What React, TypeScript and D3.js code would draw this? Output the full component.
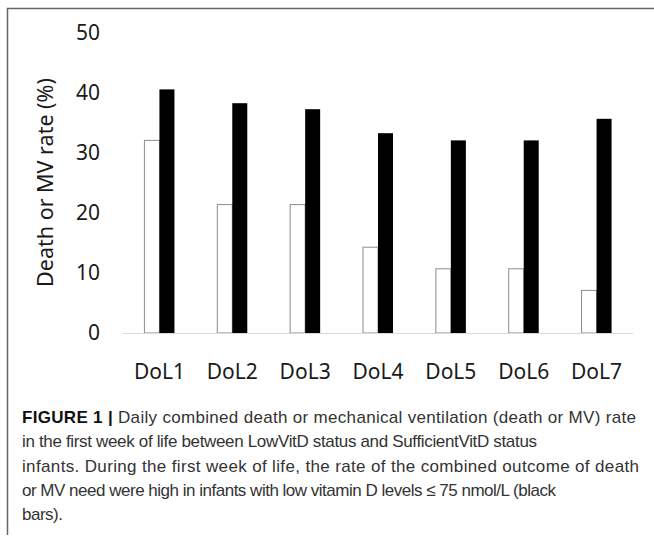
/**
 * App.tsx – Death or MV rate per day of life, LowVitD vs SufficientVitD
 * Grouped bars drawn with D3 through a ref.
 */

import React, { useEffect, useRef } from "react";
import * as d3 from "d3";

const categories = ["DoL1", "DoL2", "DoL3", "DoL4", "DoL5", "DoL6", "DoL7"];
const sufficientVitD = [32.1, 21.4, 21.4, 14.3, 10.7, 10.7, 7.1];
const lowVitD = [40.6, 38.3, 37.3, 33.3, 32.1, 32.1, 35.7];
const yTicks = [0, 10, 20, 30, 40, 50];
const seriesKeys = ["sufficient", "low"];

const captionLines = [
    { bold: "FIGURE 1 | ", text: "Daily combined death or mechanical ventilation (death or MV) rate", len: 614 },
    { bold: "", text: "in the first week of life between LowVitD status and SufficientVitD status", len: 515 },
    { bold: "", text: "infants. During the first week of life, the rate of the combined outcome of death", len: 617 },
    { bold: "", text: "or MV need were high in infants with low vitamin D levels \u2264 75 nmol/L (black", len: 534 },
    { bold: "", text: "bars).", len: 41 },
];

const App: React.FC = () => {
    const svgRef = useRef<SVGSVGElement | null>(null);

    useEffect(() => {
        if (!svgRef.current) return;

        const WIDTH = 654;
        const HEIGHT = 538;
        const PLOT = { left: 123, right: 633, top: 33, bottom: 333 };
        const FONT = "'Noto Sans', sans-serif";

        const svg = d3.select(svgRef.current);
        svg.selectAll("*").remove();
        svg.attr("width", WIDTH).attr("height", HEIGHT);

        // frame (top + left edges visible)
        svg.append("path")
            .attr("d", `M7.5,535 L7.5,8.5 L${WIDTH},8.5`)
            .attr("fill", "none")
            .attr("stroke", "#666")
            .attr("stroke-width", 1.5);

        // ── Scales ─────────────────────────────────────────────────────────────
        const x0 = d3.scaleBand<string>()
            .domain(categories)
            .range([PLOT.left, PLOT.right])
            .paddingInner(0.588)
            .paddingOuter(0.294);
        const x1 = d3.scaleBand<string>().domain(seriesKeys).range([0, x0.bandwidth()]);
        const y = d3.scaleLinear().domain([0, 50]).range([PLOT.bottom, PLOT.top]);

        // ── Y labels ───────────────────────────────────────────────────────────
        svg.append("g")
            .selectAll("text")
            .data(yTicks)
            .enter()
            .append("text")
            .attr("x", 100)
            .attr("y", (d) => y(d))
            .attr("dy", "0.35em")
            .attr("text-anchor", "end")
            .attr("font-family", FONT)
            .attr("font-size", 21)
            .attr("fill", "#1a1a1a")
            .text((d) => d);

        svg.append("text")
            .attr("transform", `translate(53,${(78 + 287) / 2}) rotate(-90)`)
            .attr("text-anchor", "middle")
            .attr("font-family", FONT)
            .attr("font-size", 21.5)
            .attr("fill", "#1a1a1a")
            .text("Death or MV rate (%)");

        // ── Bars ───────────────────────────────────────────────────────────────
        const groups = svg.append("g")
            .selectAll("g")
            .data(categories)
            .enter()
            .append("g")
            .attr("transform", (d) => `translate(${x0(d)},0)`);

        groups.append("rect")
            .attr("x", x1("sufficient")!)
            .attr("y", (_, i) => y(sufficientVitD[i]))
            .attr("width", x1.bandwidth())
            .attr("height", (_, i) => y(0) - y(sufficientVitD[i]))
            .attr("fill", "#fff")
            .attr("stroke", "#8c8c8c")
            .attr("stroke-width", 1);

        groups.append("rect")
            .attr("x", x1("low")!)
            .attr("y", (_, i) => y(lowVitD[i]))
            .attr("width", x1.bandwidth())
            .attr("height", (_, i) => y(0) - y(lowVitD[i]))
            .attr("fill", "#000");

        // ── Baseline + x labels ────────────────────────────────────────────────
        svg.append("line")
            .attr("x1", PLOT.left)
            .attr("x2", PLOT.right)
            .attr("y1", y(0) + 0.5)
            .attr("y2", y(0) + 0.5)
            .attr("stroke", "#d9d9d9")
            .attr("stroke-width", 1.2);

        svg.append("g")
            .selectAll("text")
            .data(categories)
            .enter()
            .append("text")
            .attr("x", (d) => x0(d)! + x0.bandwidth() / 2)
            .attr("y", 372)
            .attr("dy", "0.35em")
            .attr("text-anchor", "middle")
            .attr("font-family", FONT)
            .attr("font-size", 21)
            .attr("fill", "#1a1a1a")
            .text((d) => d);

        // ── Caption ────────────────────────────────────────────────────────────
        const cap = svg.append("g")
            .attr("font-family", "'Liberation Sans', Arial, sans-serif")
            .attr("font-size", 17);

        captionLines.forEach((line, i) => {
            const t = cap.append("text")
                .attr("x", 22)
                .attr("y", 423 + i * 24.3)
                .attr("textLength", line.len)
                .attr("lengthAdjust", "spacing");
            if (line.bold) {
                t.append("tspan").attr("font-weight", "bold").attr("fill", "#111").text(line.bold);
            }
            t.append("tspan").attr("fill", "#333").text(line.text);
        });
    }, []);

    return (
        <svg
            ref={svgRef}
            style={{ position: "absolute", left: 0, top: 0, display: "block", background: "#fff" }}
        />
    );
};

export default App;
